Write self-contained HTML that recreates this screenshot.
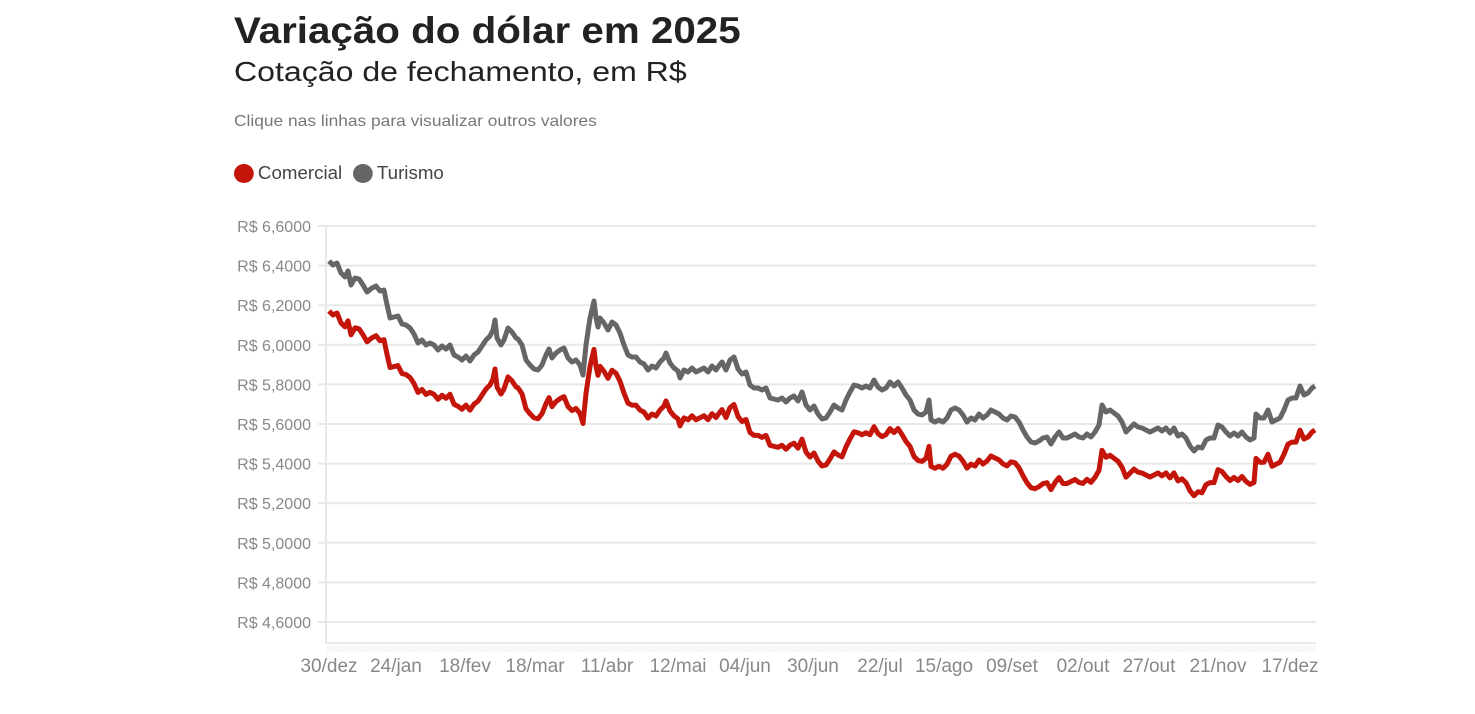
<!DOCTYPE html><html><head><meta charset="utf-8"><style>
body{margin:0;background:#fff;width:1475px;height:714px;overflow:hidden;font-family:"Liberation Sans",sans-serif}
.t,.s,.n,.l{transform-origin:0 0;white-space:nowrap}
.t{position:absolute;left:234px;top:10px;font-size:37px;font-weight:bold;color:#222;transform:scaleX(1.09)}
.s{position:absolute;left:234px;top:56px;font-size:28px;color:#222;transform:scaleX(1.145)}
.n{position:absolute;left:234px;top:113px;font-size:16px;color:#777;transform:scaleX(1.085)}
.l{position:absolute;top:163px;font-size:18px;color:#444;transform:scaleX(1.04)}
.d{display:inline-block;width:19px;height:19px;border-radius:50%;vertical-align:-4px;margin-right:4px}
svg{position:absolute;left:0;top:0}
</style></head><body>
<div class="t">Variação do dólar em 2025</div>
<div class="s">Cotação de fechamento, em R$</div>
<div class="n">Clique nas linhas para visualizar outros valores</div>
<div class="l" style="left:234px"><span class="d" style="background:#c4150b"></span>Comercial</div>
<div class="l" style="left:353px"><span class="d" style="background:#666"></span>Turismo</div>
<svg id="g" width="1475" height="714" font-family="Liberation Sans, sans-serif"></svg>
<script>
var g=document.getElementById('g'),h='';
var labs=['6,6000','6,4000','6,2000','6,0000','5,8000','5,6000','5,4000','5,2000','5,0000','4,8000','4,6000'];
labs.forEach(function(l,i){var y=226+i*39.6;h+='<line x1="318" x2="1316" y1="'+y+'" y2="'+y+'" stroke="#e8e8e8" stroke-width="2"/><text x="311" y="'+(y+6)+'" text-anchor="end" font-size="16" fill="#888">R$ '+l+'</text>';});
h+='<line x1="326" x2="326" y1="226" y2="644" stroke="#e8e8e8" stroke-width="2"/><line x1="326" x2="1316" y1="643" y2="643" stroke="#e8e8e8" stroke-width="2"/>';
for(var x=328;x<1316;x+=3)h+='<line x1="'+x+'" x2="'+x+'" y1="645" y2="652" stroke="#eee" stroke-width="1"/>';
var xl=[['30/dez',329],['24/jan',396],['18/fev',465],['18/mar',535],['11/abr',607],['12/mai',678],['04/jun',745],['30/jun',813],['22/jul',880],['15/ago',944],['09/set',1012],['02/out',1083],['27/out',1149],['21/nov',1218],['17/dez',1290]];
xl.forEach(function(a){h+='<text x="'+a[1]+'" y="672" text-anchor="middle" font-size="19" fill="#888">'+a[0]+'</text>';});
var p=[329,261,333,265,337,263,341,273,345,277,348,271,351,285,355,278,359,279,363,285,367,292,372,288,376,286,380,291,384,290,386,300,390,318,394,317,398,316,402,324,406,325,410,328,414,334,418,343,422,340,426,345,430,343,434,345,438,350,442,346,446,349,450,345,454,355,458,357,462,360,466,356,470,361,474,355,478,352,482,346,486,340,490,336,493,330,495,320,497,338,501,345,504,340,508,328,512,332,516,338,518,339,522,345,526,360,530,365,534,369,538,370,542,365,546,355,549,349,552,358,556,353,560,350,564,348,568,358,572,362,576,360,580,365,583,375,586,345,590,318,594,301,596,318,598,327,600,318,604,323,608,330,612,322,616,325,620,333,624,345,628,355,632,357,636,357,640,362,644,364,648,370,652,366,656,368,660,362,664,358,666,353,670,363,674,368,678,371,680,378,684,370,688,372,692,368,696,372,700,370,704,368,708,372,712,366,716,370,718,367,722,362,726,370,730,360,734,357,738,369,742,374,746,372,750,385,754,388,758,388,762,390,766,388,770,398,774,399,778,400,782,398,786,402,790,398,794,396,798,401,802,392,806,405,810,410,814,406,818,414,822,419,826,418,830,412,834,405,838,408,842,410,846,400,850,392,854,385,858,386,862,388,866,386,870,388,874,380,878,387,882,390,886,388,890,382,894,386,898,382,902,388,906,395,910,400,914,410,918,414,922,415,926,412,929,400,931,420,935,422,939,420,943,422,947,418,951,410,955,408,959,410,963,415,967,422,971,418,975,420,979,414,983,418,987,415,991,410,995,412,999,414,1003,418,1007,420,1011,416,1015,417,1019,422,1023,430,1027,437,1031,442,1035,443,1039,441,1043,438,1047,437,1051,444,1055,437,1059,432,1063,438,1067,438,1071,436,1075,434,1079,437,1083,438,1087,434,1091,437,1095,432,1099,425,1102,405,1106,412,1110,410,1114,413,1118,416,1122,422,1126,432,1130,428,1134,424,1138,427,1142,428,1146,430,1150,432,1154,430,1158,428,1162,431,1166,428,1170,433,1174,428,1178,436,1182,434,1186,438,1190,446,1194,451,1198,447,1202,448,1206,440,1210,438,1214,438,1218,425,1222,427,1226,432,1230,436,1234,433,1238,436,1242,432,1246,437,1250,440,1254,438,1256,414,1260,418,1264,418,1268,410,1272,422,1276,420,1280,418,1284,410,1288,400,1292,398,1296,398,1300,386,1304,395,1308,393,1312,388,1315,386];
var a='',b='';
for(var i=0;i<p.length;i+=2){var x=p[i],y=p[i+1];a+=x+','+y+' ';var off=50-6*(x-329)/986;b+=x+','+(y+off)+' ';}
h+='<polyline points="'+a+'" fill="none" stroke="#666" stroke-width="5" stroke-linejoin="round"/>';
h+='<polyline points="'+b+'" fill="none" stroke="#c4150b" stroke-width="5" stroke-linejoin="round"/>';
g.innerHTML=h;
</script></body></html>
